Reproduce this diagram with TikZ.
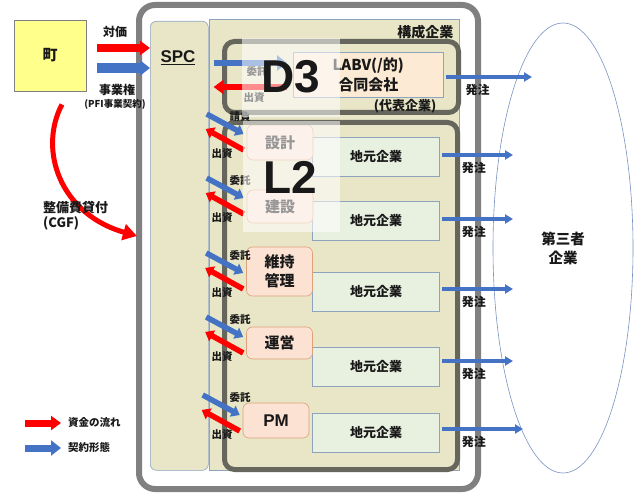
\documentclass[tikz,border=0pt]{standalone}
\usepackage{fontspec}
\setmainfont{Noto Sans CJK JP}
\newfontfamily\arialfont{Liberation Sans}
\usetikzlibrary{arrows.meta,calc,shapes.geometric}
\definecolor{beige}{RGB}{232,230,198}
\definecolor{panelline}{RGB}{141,163,190}
\definecolor{framegray}{RGB}{128,128,128}
\definecolor{darkframe}{RGB}{102,102,92}
\definecolor{townfill}{RGB}{255,255,140}
\definecolor{rolefill}{RGB}{251,226,211}
\definecolor{roleline}{RGB}{222,160,120}
\definecolor{labvfill}{RGB}{252,234,212}
\definecolor{localfill}{RGB}{232,240,224}
\definecolor{flowred}{RGB}{255,0,0}
\definecolor{flowblue}{RGB}{68,114,196}
\definecolor{ellline}{RGB}{120,145,190}
\tikzset{
  fs/.style={font=\bfseries\fontsize{#1}{#1}\selectfont},
  latin/.style={font=\arialfont\bfseries\fontsize{#1}{#1}\selectfont},
  panel/.style={draw=panelline,fill=beige,line width=0.6pt},
  frame3/.style={draw=darkframe,line width=5pt,rounded corners=10pt},
  rolebox/.style={draw=roleline,fill=rolefill,line width=0.6pt,rounded corners=6pt,
    minimum width=66pt,fs=15},
  localbox/.style={draw=panelline,fill=localfill,line width=0.6pt,
    minimum width=127pt,minimum height=39pt,fs=13},
  redarr/.style={draw=flowred,line width=#1,-{Triangle[length=10pt,width=14pt]}},
  bluearr/.style={draw=flowblue,line width=#1,-{Triangle[length=10pt,width=15pt]}},
  diagred/.style={draw=flowred,line width=5.5pt,-{Triangle[length=8pt,width=12pt]}},
  diagblue/.style={draw=flowblue,line width=5.5pt,-{Triangle[length=8pt,width=12pt]}},
  orderarr/.style={draw=flowblue,line width=3.5pt,-{Triangle[length=8pt,width=9pt]}},
  haze/.style={fill=white,fill opacity=.55}
}
\begin{document}
\begin{tikzpicture}[x=1pt,y=-1pt,every node/.style={inner sep=0pt,text=black!90}]
\useasboundingbox (0,0) rectangle (634,494);
% outer group
\draw[draw=framegray,line width=6pt,rounded corners=16pt,fill=white] (139,5) rectangle (478,489);
\node[panel,rounded corners=6pt,anchor=north west,minimum width=58pt,minimum height=449pt]
  (spc) at (150,21) {};
\node[latin=17] (spclbl) at (178,58) {\underline{SPC}};
\node[panel,anchor=north west,minimum width=250pt,minimum height=451pt] (kosei) at (209,19) {};
\node[fs=14,anchor=north east] at ([xshift=-6pt,yshift=-6pt]kosei.north east) {構成企業};
% town and its links
\node[draw=black!50,fill=townfill,line width=0.8pt,minimum width=72pt,minimum height=71pt,fs=15]
  (town) at (50,55.5) {町};
\node[fs=12] at (115,32) {対価};
\node[fs=12] at (117,90) {事業権};
\node[fs=9.5] at (115,104) {(PFI事業契約)};
\draw[redarr=8pt] ([xshift=11pt,yshift=7.5pt]town.east)
  -- ([yshift=7.5pt]town.east -| spc.west);
\draw[bluearr=10pt] ([xshift=11pt,yshift=-12.5pt]town.east)
  -- ([yshift=-12.5pt]town.east -| spc.west);
% CGF
\coordinate (cgf) at (137,236);
\draw[draw=flowred,line width=5pt,-{Triangle[length=14pt,width=16pt]}]
  ([shift={(12pt,-13pt)}]town.south) .. controls (38,150) and (60,214) .. (cgf);
\node[fs=13,align=left,anchor=west] at (43,216) {整備費貸付\\[2pt](CGF)};
% members
\node[draw=panelline,fill=labvfill,line width=0.6pt,anchor=north west,minimum width=150pt,
  minimum height=45pt,fs=15,align=center] (labv) at (293,52) {LABV(/的)\\[4pt]合同会社};
\foreach \y [count=\i] in {157,220.5,291.5,366.5,432.5}
  \node[localbox] (loc\i) at (376,\y) {地元企業};
\node[rolebox,minimum height=35pt] (sekkei) at (280,142.5) {設計};
\node[rolebox,minimum height=33pt] (kensetsu) at (280,206.5) {建設};
\node[rolebox,minimum height=49pt,align=center] (iji) at (279.5,271.5) {維持\\[4pt]管理};
\node[rolebox,minimum height=32pt] (unei) at (279.5,343) {運営};
\node[rolebox,minimum height=35pt,latin=17] (pm) at (276,420.5) {PM};
\node[frame3,anchor=north west,minimum width=234pt,minimum height=71pt] (d3) at (222,39) {};
\node[frame3,anchor=north west,minimum width=233pt,minimum height=347pt] (l2) at (222,120) {};
\node[fs=13] at (405,106) {(代表企業)};
% SPC <-> members
\draw[bluearr=6pt] ([xshift=5pt]spc.east |- 0,63) -- (287,63);
\draw[redarr=6pt] (287,87) -- ([xshift=5pt]spc.east |- 0,87);
\node[fs=10.5] at (257,72) {委託};
\node[fs=10.5] at (254,98) {出資};
\foreach \r/\b/\t in {sekkei/134/請負,kensetsu/198/委託,iji/273/委託,unei/337/委託,pm/415/委託}{
  \coordinate (in\r) at ($(\r.west |- 0,\b)+(-3,0)$);
  \coordinate (out\r) at ($(\r.west |- 0,\b)+(-3,16)$);
  \draw[diagblue] ($(in\r)+(-37,-20)$) -- (in\r);
  \draw[diagred] (out\r) -- ($(out\r)+(-38,-21)$);
  \node[fs=10.5] at (240,\b-17) {\t};
  \node[fs=10.5] at (222,\b+20) {出資};
}
% third parties
\node[draw=ellline,ellipse,line width=0.6pt,minimum width=140pt,minimum height=450pt,
  fs=14.5,align=center] (third) at (563,248) {第三者\\[4.5pt]企業};
\foreach \s/\ya/\xe in {labv/77/532,loc1/155/513,loc2/219/513,loc3/289/513,loc4/361/513,loc5/429/523}{
  \coordinate (o\s) at (\xe,\ya);
  \draw[orderarr] ([xshift=2pt]\s.east |- o\s) -- (o\s);
  \node[fs=12] at ($(\s.east |- o\s)+(34,13)$) {発注};
}
% highlight labels
\fill[haze] (242,38) rectangle (340,117);
\fill[haze] (243,121) rectangle (340,232);
\node[latin=46] (d3lbl) at (291,77) {D3};
\node[latin=46] (l2lbl) at (290,177) {L2};
% legend
\node[fs=10.5,anchor=west] (lgred) at (68,423) {資金の流れ};
\node[fs=10.5,anchor=west] (lgblue) at (68,448) {契約形態};
\draw[redarr=7pt] ([xshift=-43pt]lgred.west) -- ([xshift=-7pt]lgred.west);
\draw[bluearr=7pt] ([xshift=-43pt]lgblue.west) -- ([xshift=-7pt]lgblue.west);
\end{tikzpicture}
\end{document}
